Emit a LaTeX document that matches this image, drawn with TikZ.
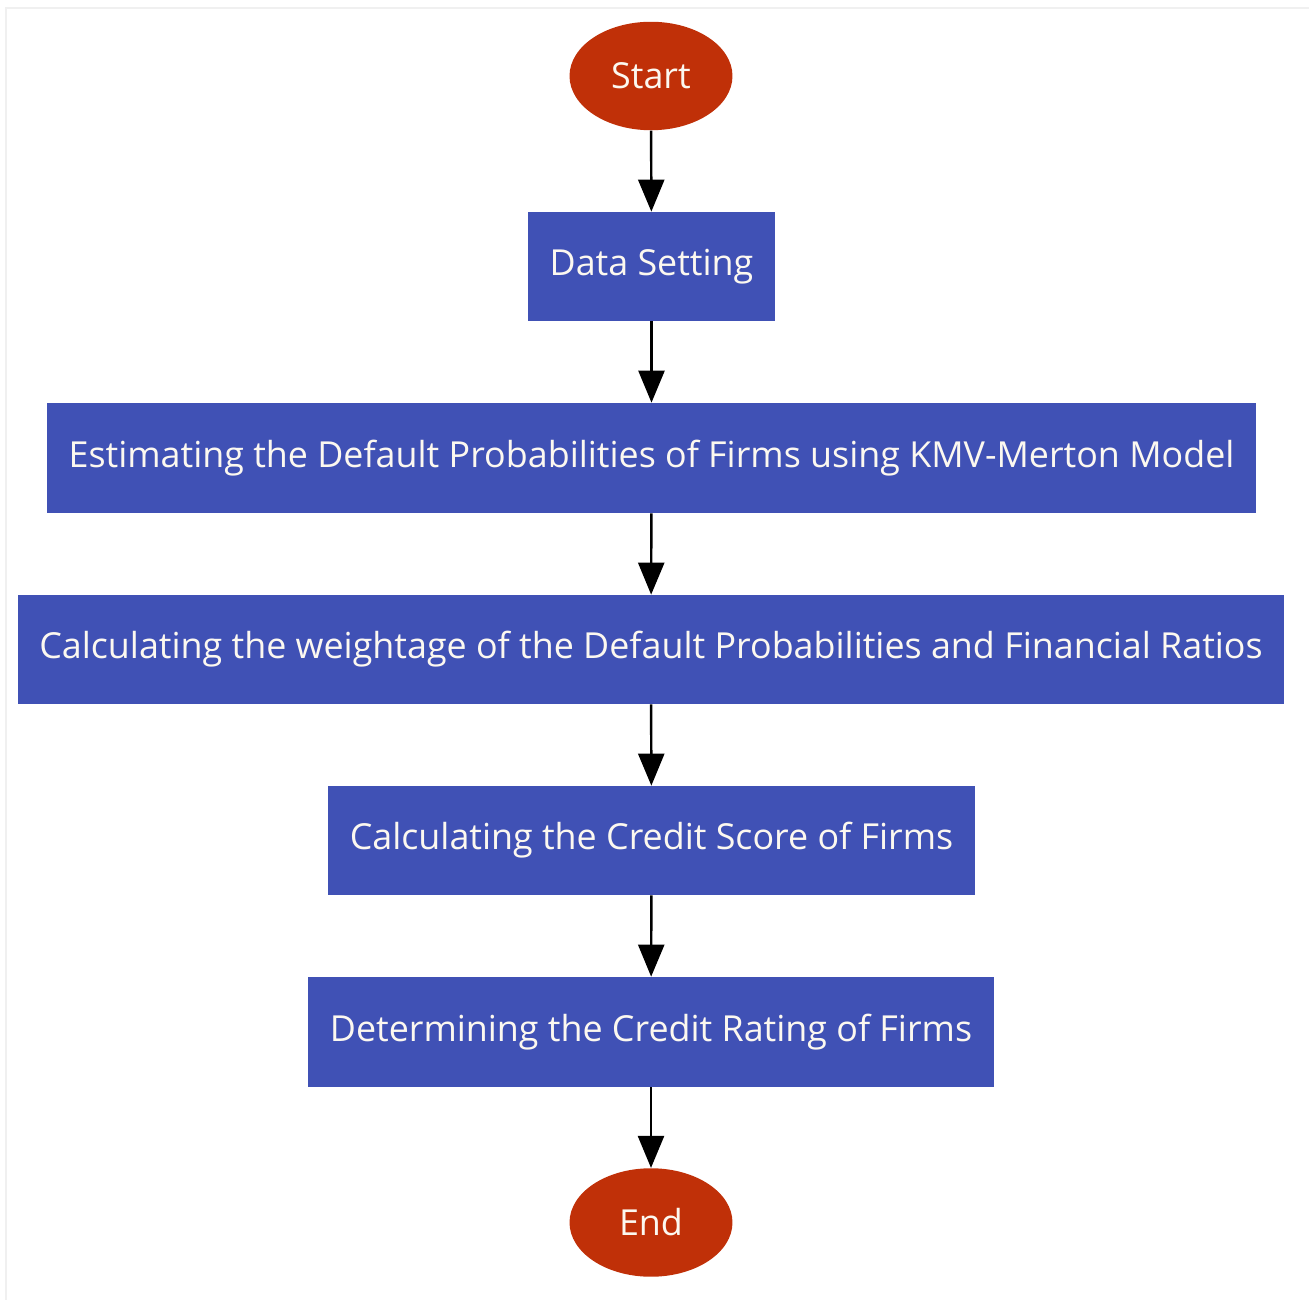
\documentclass[tikz,border=0pt]{standalone}
\usepackage{fontspec}
\setmainfont{Open Sans}
\usetikzlibrary{shapes.geometric,arrows.meta}
\definecolor{stepblue}{RGB}{64,81,181}
\definecolor{termred}{RGB}{192,48,8}
\definecolor{paletext}{RGB}{252,248,240}
\begin{document}
\begin{tikzpicture}
[%%%%%%%%%%%%%%%%%%%%%%%%%%%%%%
x=0.02cm, y=-0.02cm,
stepbox/.style={rectangle,fill=stepblue,text=paletext,minimum height=2.18cm,inner sep=0pt,font=\fontsize{20.4}{24}\selectfont},
term/.style={ellipse,fill=termred,text=paletext,minimum width=3.26cm,minimum height=2.17cm,inner sep=0pt,font=\fontsize{20.4}{24}\selectfont},
link/.style={-{Triangle[width=0.52cm,length=0.64cm]},line width=1.4pt,black},
]%%%%%%%%%%%%%%%%%%%%%%%%%%%%%%
\useasboundingbox (0,0) rectangle (1309,1300);
\draw[gray!12,line width=1.5pt] (6,1300) -- (6,8) -- (1309,8);

\node[term] (start) at (651,76){Start};
\node[stepbox,minimum width=4.94cm] (data) at (651.5,266.5){Data Setting};
\node[stepbox,minimum width=24.18cm,minimum height=2.2cm] (kmv) at (651.5,458){Estimating the Default Probabilities of Firms using KMV-Merton Model};
\node[stepbox,minimum width=25.32cm] (weight) at (651,649.5){Calculating the weightage of the Default Probabilities and Financial Ratios};
\node[stepbox,minimum width=12.94cm] (score) at (651.5,840.5){Calculating the Credit Score of Firms};
\node[stepbox,minimum width=13.72cm,minimum height=2.2cm] (rating) at (651,1032){Determining the Credit Rating of Firms};
\node[term] (end) at (651,1222.5){End};

\draw[link] (start) -- (data);
\draw[link] (data) -- (kmv);
\draw[link] (kmv) -- (weight);
\draw[link] (weight) -- (score);
\draw[link] (score) -- (rating);
\draw[link] (rating) -- (end);
\end{tikzpicture}
\end{document}
